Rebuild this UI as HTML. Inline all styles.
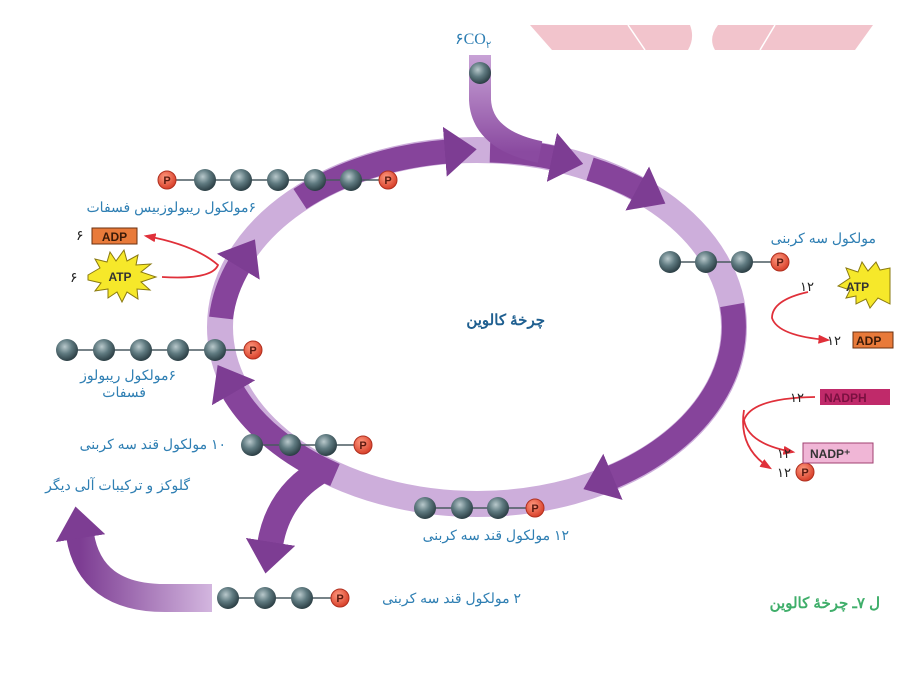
<!DOCTYPE html>
<html><head><meta charset="utf-8"><style>
html,body{margin:0;padding:0;background:#fff;width:922px;height:695px;overflow:hidden}
svg{display:block}
.t{font-family:"Liberation Sans","Noto Sans CJK SC",sans-serif;fill:#2f7fb3;font-size:14px}
</style></head><body>
<svg width="922" height="695" viewBox="0 0 922 695" xmlns="http://www.w3.org/2000/svg">
<defs>
<marker id="ah" viewBox="0 0 10 10" refX="1" refY="5" markerWidth="32" markerHeight="50" markerUnits="userSpaceOnUse" orient="auto" preserveAspectRatio="none"><path d="M0,0 L10,5 L0,10 z" fill="#7d3d93"/></marker>
<marker id="ra" viewBox="0 0 10 10" refX="8" refY="5" markerWidth="12" markerHeight="9" markerUnits="userSpaceOnUse" orient="auto" preserveAspectRatio="none"><path d="M0,0 L10,5 L0,10 z" fill="#e0303a"/></marker>
<radialGradient id="ball" cx="40%" cy="35%" r="65%"><stop offset="0" stop-color="#b9c9cc"/><stop offset="0.5" stop-color="#5f7a80"/><stop offset="1" stop-color="#2c3f45"/></radialGradient>
<radialGradient id="pb" cx="40%" cy="35%" r="65%"><stop offset="0" stop-color="#ff9a80"/><stop offset="1" stop-color="#d8402a"/></radialGradient>
<linearGradient id="co2" x1="0" y1="0" x2="0" y2="1"><stop offset="0" stop-color="#c8a2d6"/><stop offset="1" stop-color="#8a4aa0"/></linearGradient>
<linearGradient id="gl" x1="1" y1="0" x2="0" y2="0"><stop offset="0" stop-color="#d3b6df"/><stop offset="1" stop-color="#7d3d93"/></linearGradient>
</defs>

<path d="M530,25 L690,25 Q695,38 688,50 L552,50 Z" fill="#f2c4cc"/>
<path d="M718,25 L873,25 L855,50 L715,50 Q708,38 718,25 Z" fill="#f2c4cc"/>
<line x1="628" y1="25" x2="645" y2="50" stroke="#fff" stroke-width="1.5"/>
<line x1="775" y1="25" x2="760" y2="50" stroke="#fff" stroke-width="1.5"/>

<ellipse cx="477" cy="327" rx="257" ry="177" fill="none" stroke="#cdaedb" stroke-width="26"/>

<g fill="none" stroke="#86449b" stroke-width="24">
<path d="M300,199 A257 177 0 0 1 448,151.5" marker-end="url(#ah)"/>
<path d="M490,150.5 A257 177 0 0 1 555,158" marker-end="url(#ah)"/>
<path d="M590,169 A257 177 0 0 1 640,190" marker-end="url(#ah)"/>
<path d="M732,305 A257 177 0 0 1 610,478" marker-end="url(#ah)"/>
<path d="M335,475 A257 177 0 0 1 232,390" marker-end="url(#ah)"/>
<path d="M221,318 A257 177 0 0 1 240,264" marker-end="url(#ah)"/>
</g>
<path d="M480,55 L480,100 Q482,140 540,152" fill="none" stroke="url(#co2)" stroke-width="22"/>
<path d="M322,470 Q278,495 270,545" fill="none" stroke="#86449b" stroke-width="26" marker-end="url(#ah)"/>
<path d="M212,598 L165,598 Q90,598 80,535" fill="none" stroke="url(#gl)" stroke-width="28" marker-end="url(#ah)"/>

<g stroke="#4a5a60" stroke-width="1.5">
<line x1="165" y1="180" x2="388" y2="180"/>
<line x1="670" y1="262" x2="780" y2="262"/>
<line x1="67" y1="350" x2="253" y2="350"/>
<line x1="252" y1="445" x2="363" y2="445"/>
<line x1="425" y1="508" x2="535" y2="508"/>
<line x1="228" y1="598" x2="340" y2="598"/>
</g>
<g fill="url(#ball)">
<circle cx="480" cy="73" r="11"/>
<circle cx="205" cy="180" r="11"/><circle cx="241" cy="180" r="11"/><circle cx="278" cy="180" r="11"/><circle cx="315" cy="180" r="11"/><circle cx="351" cy="180" r="11"/>
<circle cx="670" cy="262" r="11"/><circle cx="706" cy="262" r="11"/><circle cx="742" cy="262" r="11"/>
<circle cx="67" cy="350" r="11"/><circle cx="104" cy="350" r="11"/><circle cx="141" cy="350" r="11"/><circle cx="178" cy="350" r="11"/><circle cx="215" cy="350" r="11"/>
<circle cx="252" cy="445" r="11"/><circle cx="290" cy="445" r="11"/><circle cx="326" cy="445" r="11"/>
<circle cx="425" cy="508" r="11"/><circle cx="462" cy="508" r="11"/><circle cx="498" cy="508" r="11"/>
<circle cx="228" cy="598" r="11"/><circle cx="265" cy="598" r="11"/><circle cx="302" cy="598" r="11"/>
</g>
<g fill="url(#pb)" stroke="#b03020" stroke-width="1">
<circle cx="167" cy="180" r="9"/><circle cx="388" cy="180" r="9"/><circle cx="780" cy="262" r="9"/><circle cx="253" cy="350" r="9"/><circle cx="363" cy="445" r="9"/><circle cx="535" cy="508" r="9"/><circle cx="340" cy="598" r="9"/><circle cx="805" cy="472" r="9"/>
</g>
<g font-family="Liberation Sans,sans-serif" font-size="11" font-weight="bold" fill="#5a1a10" text-anchor="middle">
<text x="167" y="184">P</text><text x="388" y="184">P</text><text x="780" y="266">P</text><text x="253" y="354">P</text><text x="363" y="449">P</text><text x="535" y="512">P</text><text x="340" y="602">P</text><text x="805" y="476">P</text>
</g>

<g fill="none" stroke="#e0303a" stroke-width="1.8">
<path d="M162,277 Q212,280 218,265 Q195,245 146,236" marker-end="url(#ra)"/>
<path d="M808,292 Q772,300 772,318 Q778,336 828,340" marker-end="url(#ra)"/>
<path d="M815,397 Q752,398 744,420 Q748,444 793,452" marker-end="url(#ra)"/>
<path d="M744,410 Q738,448 770,468" marker-end="url(#ra)"/>
</g>

<rect x="92" y="228" width="45" height="16" fill="#e87a3a" stroke="#6a3010" stroke-width="1"/>
<text x="114.5" y="241" font-family="Liberation Sans,sans-serif" font-size="12" font-weight="bold" fill="#3a1a08" text-anchor="middle">ADP</text>
<polygon points="88,275 100,268 95,259 107,262 110,252 116,261 124,250 127,261 138,255 136,265 151,264 141,272 156,277 141,282 150,290 137,289 138,299 127,292 122,302 117,292 108,298 108,289 95,291 101,283 88,280" fill="#f6e82a" stroke="#8a7a10" stroke-width="1"/>
<text x="120" y="281" font-family="Liberation Sans,sans-serif" font-size="12" font-weight="bold" fill="#333" text-anchor="middle">ATP</text>
<text class="t" x="76" y="240" style="fill:#222">۶</text>
<text class="t" x="70" y="282" style="fill:#222">۶</text>

<polygon points="838,286 850,278 846,268 858,272 862,262 868,271 876,262 880,270 890,268 890,304 878,298 870,308 866,299 856,304 856,296 846,298 850,290" fill="#f6e82a" stroke="#8a7a10" stroke-width="1"/>
<text x="846" y="291" font-family="Liberation Sans,sans-serif" font-size="12" font-weight="bold" fill="#333">ATP</text>
<rect x="853" y="332" width="40" height="16" fill="#e87a3a" stroke="#6a3010" stroke-width="1"/>
<text x="856" y="345" font-family="Liberation Sans,sans-serif" font-size="12" font-weight="bold" fill="#3a1a08">ADP</text>
<rect x="820" y="389" width="70" height="16" fill="#c02a6a"/>
<text x="824" y="402" font-family="Liberation Sans,sans-serif" font-size="12" font-weight="bold" fill="#7a1040">NADPH</text>
<rect x="803" y="443" width="70" height="20" fill="#f0b6d6" stroke="#a04070" stroke-width="1"/>
<text x="810" y="458" font-family="Liberation Sans,sans-serif" font-size="12" font-weight="bold" fill="#333">NADP⁺</text>
<g class="t" style="fill:#222;font-size:13px">
<text x="800" y="291">۱۲</text><text x="827" y="345">۱۲</text><text x="790" y="402">۱۲</text><text x="777" y="458">۱۲</text><text x="777" y="477">۱۲</text>
</g>

<text x="455" y="44" style="font-family:'Liberation Serif',serif;font-size:16px;fill:#2f7fb3">۶CO<tspan font-size="10" dy="4">۲</tspan></text>
<g class="t" direction="rtl">
<text x="256" y="212">۶مولکول ریبولوزبیس فسفات</text>
<text x="176" y="380">۶مولکول ریبولوز</text>
<text x="146" y="397">فسفات</text>
<text x="226" y="449">۱۰ مولکول قند سه کربنی</text>
<text x="190" y="490">گلوکز و ترکیبات آلی دیگر</text>
<text x="569" y="540">۱۲ مولکول قند سه کربنی</text>
<text x="521" y="603">۲ مولکول قند سه کربنی</text>
<text x="876" y="243">مولکول سه کربنی</text>
<text x="545" y="325" style="font-weight:bold;font-size:15px;fill:#1f5f90">چرخهٔ کالوین</text>
<text x="880" y="608" style="fill:#3fae6a;font-weight:bold;font-size:15px">ل ۷ـ چرخهٔ کالوین</text>
</g>
</svg>
</body></html>
